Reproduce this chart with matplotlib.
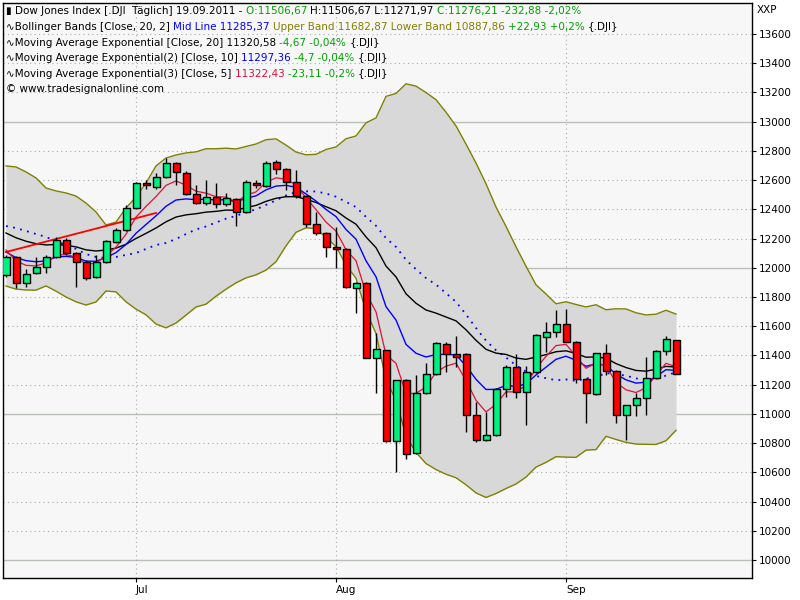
import matplotlib
matplotlib.use("Agg")
import matplotlib.pyplot as plt
import numpy as np

opens  = [11951,12074,11896,11964,12005,12074,12190,12101,12040,11937,12040,12177,12259,12409,12580,12553,12621,12717,12649,12505,
          12443,12485,12437,12471,12382,12580,12560,12724,12676,12587,12491,12300,12238,12142,12129,11862,11896,11382,11437,10814,
          11232,10732,11143,11273,11478,11410,11410,10992,10821,10855,11170,11321,11150,11287,11526,11560,11615,11492,11239,11136,
          11417,11294,10992,11061,11109,11246,11430,11506.67]
highs  = [12088,12080,11992,12074,12088,12211,12204,12105,12053,12088,12190,12272,12430,12587,12601,12649,12751,12724,12660,12567,
          12601,12580,12512,12475,12601,12601,12731,12738,12680,12669,12500,12382,12245,12279,12135,11900,11900,11554,11440,11232,
          11240,11266,11348,11490,11492,11533,11415,11081,11013,11175,11335,11410,11328,11545,11629,11711,11718,11500,11245,11420,
          11478,11300,11061,11143,11389,11440,11533,11506.67]
lows   = [11937,11862,11868,11960,11964,12070,12088,11868,11916,11930,12030,12170,12250,12400,12539,12539,12615,12567,12500,12437,
          12430,12409,12423,12286,12375,12546,12555,12642,12533,12480,12279,12224,12074,11999,11862,11691,11380,11143,10808,10602,
          10691,10725,11136,11266,11287,11321,10876,10808,10815,10850,11116,11109,10924,11280,11424,11526,11490,11211,10938,11130,
          11266,10938,10821,10985,10992,11240,11403,11271.97]
closes = [12074,11896,11957,12005,12074,12190,12101,12040,11930,12040,12183,12259,12409,12580,12567,12621,12717,12656,12505,12443,
          12485,12437,12478,12382,12587,12567,12717,12676,12587,12491,12300,12238,12142,12129,11868,11896,11382,11444,10814,11232,
          10725,11143,11273,11485,11410,11389,10992,10821,10855,11170,11321,11150,11287,11540,11560,11615,11492,11239,11143,11417,
          11294,10992,11061,11109,11246,11430,11513,11276.21]
# Bollinger values read for the first 19 days (prior history not shown)
upper_start = [12697,12690,12656,12615,12546,12526,12512,12491,12443,12382,12293,12313,12409,12485,12580,12697,12751,12772,12786]
mid_start   = [12286,12272,12252,12231,12211,12183,12156,12129,12094,12074,12067,12074,12088,12101,12129,12156,12170,12197,12231]
ema_seed = {20: 12238, 10: 12108, 5: 12122}
trend_idx = [0, 15]
trend_val = [12108, 12375]
month_idx = [13, 33, 56]
month_lbl = ["Jul", "Aug", "Sep"]

n = len(closes)
x = np.arange(n)
c = np.array(closes, float)

def ema(period, seed):
    a = 2.0 / (period + 1)
    out = [seed]
    for v in c[1:]:
        out.append(out[-1] + a * (v - out[-1]))
    return np.array(out)

mid = np.zeros(n); up = np.zeros(n); lo = np.zeros(n)
for i in range(n):
    if i < len(mid_start):
        mid[i] = mid_start[i]; up[i] = upper_start[i]; lo[i] = 2 * mid_start[i] - upper_start[i]
    else:
        w = c[i-19:i+1]
        mid[i] = w.mean(); s = w.std()
        up[i] = mid[i] + 2 * s; lo[i] = mid[i] - 2 * s

fig = plt.figure(figsize=(8, 6), dpi=100)
fig.patch.set_facecolor("white")
ax = fig.add_axes([3/800, 22/600, 749/800, 575/600])
ax.set_facecolor("#f7f7f7")
ax.set_xlim(-0.3, 74.6)
ax.set_ylim(9877, 13812)

for yv in range(10000, 13800, 200):
    if yv % 1000 == 0:
        ax.axhline(yv, color="#b8c0b8", lw=1, zorder=1)
    else:
        ax.axhline(yv, color="#a8a8a8", lw=0.8, ls=(0, (1, 3)), zorder=1)
for mi in month_idx:
    ax.axvline(mi, color="#a8a8a8", lw=0.8, ls=(0, (1, 3)), zorder=1)

ax.fill_between(x, lo, up, color="#d8d8d8", zorder=2, lw=0)
ax.plot(x, up, color="#808000", lw=1, zorder=3)
ax.plot(x, lo, color="#808000", lw=1, zorder=3)
ax.plot(x, mid, color="#0000ff", lw=1.3, ls=(0, (1, 3)), zorder=3)
ax.plot(x, ema(20, ema_seed[20]), color="black", lw=1, zorder=3)
ax.plot(x, ema(10, ema_seed[10]), color="#0000ff", lw=1, zorder=3)
ax.plot(x, ema(5, ema_seed[5]), color="#e0103a", lw=0.9, zorder=3)
ax.plot(trend_idx, trend_val, color="#ff0000", lw=1.3, zorder=3)

for i in range(n):
    o, h, l, cl = opens[i], highs[i], lows[i], closes[i]
    col = "#00f080" if cl >= o else "#ff0000"
    ax.vlines(i, l, h, color="black", lw=1, zorder=4)
    bot = min(o, cl); ht = max(abs(cl - o), 12)
    ax.bar(i, ht, bottom=bot, width=0.7, color=col, edgecolor="black", lw=1, zorder=5)

ax.yaxis.tick_right()
ax.set_yticks(range(10000, 13700, 200))
ax.set_yticklabels([str(v) for v in range(10000, 13700, 200)], fontsize=7.5)
ax.set_xticks(month_idx)
ax.set_xticklabels(month_lbl, fontsize=7.5, ha="left")
ax.tick_params(axis="both", length=3, pad=2)
for s in ax.spines.values():
    s.set_color("black"); s.set_linewidth(1)
fig.text(757/800, 1 - 10/600, "XXP", fontsize=7.5, va="center")

renderer = fig.canvas.get_renderer()
def line(ypix, pieces, x0=6):
    xp = x0
    for txt, colr in pieces:
        t = fig.text(xp/800, 1 - ypix/600, txt, color=colr, fontsize=7.5, va="center",
                     bbox=None)
        bb = t.get_window_extent(renderer)
        xp += bb.width
    return xp

G = "#00a000"; B = "#0000ff"; O = "#808000"; R = "#e0103a"; K = "black"
line(11, [("\u25AE Dow Jones Index [.DJI  Täglich] 19.09.2011 - ", K), ("O:11506,67 ", G),
          ("H:11506,67 L:11271,97 ", K), ("C:11276,21 -232,88 -2,02%", G)])
line(27, [("∿Bollinger Bands [Close, 20, 2] ", K), ("Mid Line 11285,37 ", B),
          ("Upper Band 11682,87 Lower Band 10887,86 ", O), ("+22,93 +0,2% ", G), ("{.DJI}", K)])
line(43, [("∿Moving Average Exponential [Close, 20] 11320,58 ", K), ("-4,67 -0,04% ", G), ("{.DJI}", K)])
line(58, [("∿Moving Average Exponential(2) [Close, 10] ", K), ("11297,36 ", B), ("-4,7 -0,04% ", G), ("{.DJI}", K)])
line(74, [("∿Moving Average Exponential(3) [Close, 5] ", K), ("11322,43 ", R), ("-23,11 -0,2% ", G), ("{.DJI}", K)])
line(89, [("© www.tradesignalonline.com", K)])

fig.savefig("out.png", dpi=100)
